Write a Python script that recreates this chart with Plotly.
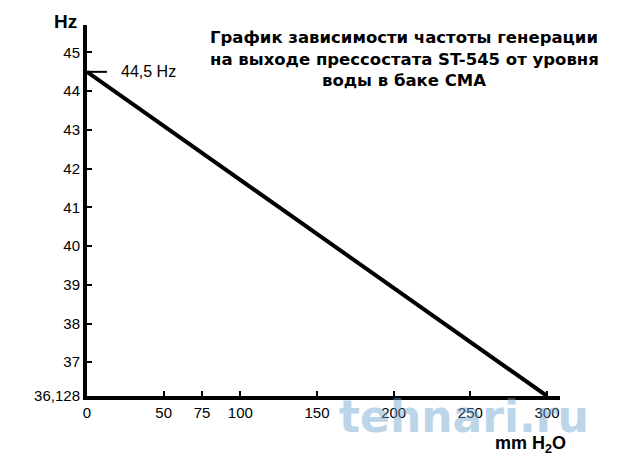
import plotly.graph_objects as go

# Data
level_mm = [0, 300]
freq_hz = [44.5, 36.128]
x_ticks = [0, 50, 75, 100, 150, 200, 250, 300]
y_ticks = [36.128, 37, 38, 39, 40, 41, 42, 43, 44, 45]
y_tick_text = ["36,128", "37", "38", "39", "40", "41", "42", "43", "44", "45"]
title_lines = ["График зависимости частоты генерации",
               "на выходе прессостата ST-545 от уровня",
               "воды в баке СМА"]
point_label = "44,5 Hz"

FONT = "Liberation Sans, Arial, sans-serif"
L, R, T, B = 87, 80, 25, 69
W, H = 640, 465
PW, PH = W - L - R, H - T - B


def px(x):
    return (x - L) / PW


def py(y):
    return (H - B - y) / PH


fig = go.Figure()
fig.add_trace(go.Scatter(x=level_mm, y=freq_hz, mode="lines",
                         line=dict(color="black", width=4),
                         cliponaxis=False, showlegend=False, hoverinfo="skip"))

fig.update_layout(
    width=W, height=H,
    margin=dict(l=L, r=R, t=T, b=B, autoexpand=False),
    paper_bgcolor="white", plot_bgcolor="white",
    font=dict(family=FONT, color="black", size=15),
    xaxis=dict(range=[0, 308.5], showgrid=False, zeroline=False, automargin=False,
               showline=True, linecolor="black", linewidth=4,
               tickmode="array", tickvals=x_ticks,
               ticks="inside", ticklen=5, tickwidth=2, tickcolor="black",
               tickfont=dict(size=15, family=FONT, color="black")),
    yaxis=dict(range=[36.128, 45.71], showgrid=False, zeroline=False, automargin=False,
               showline=True, linecolor="black", linewidth=4,
               tickmode="array", tickvals=y_ticks, ticktext=y_tick_text,
               ticks="inside", ticklen=5, tickwidth=2, tickcolor="black",
               tickfont=dict(size=15, family=FONT, color="black")),
)

# short marker line for 44,5 Hz
fig.add_shape(type="line", xref="x", yref="y", x0=0, x1=13,
              y0=freq_hz[0], y1=freq_hz[0], line=dict(color="black", width=2))
fig.add_annotation(x=21, y=freq_hz[0], xref="x", yref="y", text=point_label,
                   showarrow=False, xanchor="left", yanchor="middle",
                   font=dict(size=16, family=FONT, color="black"))

# Title (three lines)
for line, yc in zip(title_lines, [37, 59, 80]):
    fig.add_annotation(x=px(404), y=py(yc), xref="paper", yref="paper",
                       text=line, showarrow=False,
                       xanchor="center", yanchor="middle",
                       font=dict(size=16.5, family="DejaVu Sans", color="black", weight="bold"))

# Axis titles
fig.add_annotation(x=px(65), y=py(22), xref="paper", yref="paper",
                   yanchor="middle", xanchor="center",
                   text="Hz", showarrow=False,
                   font=dict(size=19, family=FONT, color="black", weight="bold"))
fig.add_annotation(x=px(530), y=py(444), xref="paper", yref="paper",
                   yanchor="middle", xanchor="center",
                   text="mm H<sub>2</sub>O", showarrow=False,
                   font=dict(size=18, family=FONT, color="black", weight="bold"))

# Watermark
fig.add_annotation(x=px(464), y=py(416), xref="paper", yref="paper",
                   yanchor="middle", xanchor="center",
                   text="tehnari.ru", showarrow=False, opacity=0.45,
                   font=dict(size=44, family="DejaVu Sans", color="#6fa3cf", weight="bold"))

fig.write_html("out.html", config={"displayModeBar": False},
               post_script="document.body.style.margin='0';document.body.style.overflow='hidden';")
